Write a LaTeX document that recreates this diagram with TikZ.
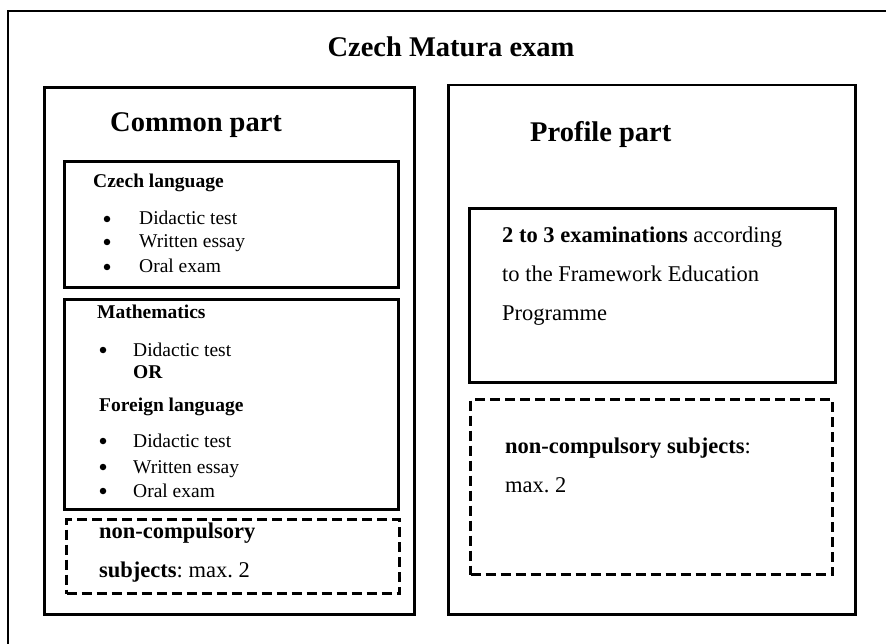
\documentclass[tikz,border=0pt]{standalone}
\usepackage{fontspec}
\setmainfont{Liberation Serif}
\usetikzlibrary{positioning}
\frenchspacing

\begin{document}
\begin{tikzpicture}[x=1pt,y=-1pt,
        frame/.style={draw,line width=3pt,anchor=north west,inner sep=0pt},
        optbox/.style={draw,line width=3pt,dash pattern=on 10pt off 5pt,anchor=north west,inner sep=0pt},
        head/.style={anchor=base west,inner sep=0pt,font=\fontsize{28.5}{34}\selectfont\bfseries},
        small/.style={anchor=base west,inner sep=0pt,font=\fontsize{19.5}{23}\selectfont},
        smallbf/.style={small,font=\fontsize{19.5}{23}\selectfont\bfseries},
        big/.style={anchor=base west,inner sep=0pt,font=\fontsize{22.5}{27}\selectfont},
        dot/.style={circle,fill,inner sep=0pt,minimum size=6.5pt,yshift=6pt}]
    \useasboundingbox (0,0) rectangle (886,644);
    \clip (0,0) rectangle (886,644);
    % outer frame, cut at right and bottom
    \draw[line width=1.7pt] (8,11) rectangle (900,660);
    \node[head,anchor=base] (title) at (451,57) {Czech Matura exam};

    % common part
    \node[frame,minimum width=370pt,minimum height=527pt] (common) at (43,86) {};
    \node[head] (commonhead) at (110,132) {Common part};
    \node[frame,minimum width=334pt,minimum height=126pt] (czech) at (63,160) {};
    \node[smallbf] (czechhead) at (93,188) {Czech language};
    \foreach \y/\t [count=\i] in {225/Didactic test,248/Written essay,273/Oral exam}{
        \node[dot] (cb\i) at (107,\y) {};
        \node[small] (ci\i) at (139,\y) {\t};
    }
    \node[frame,minimum width=334pt,minimum height=210pt] (maths) at (63,298) {};
    \node[smallbf] (mathshead) at (97,319) {Mathematics};
    \node[dot] (mb1) at (103,356) {};
    \node[small] (mi1) at (133,356) {Didactic test};
    \node[smallbf] (or) at (133,378) {OR};
    \node[smallbf] (foreignhead) at (99,411) {Foreign language};
    \foreach \y/\t [count=\i] in {447/Didactic test,473/Written essay,497/Oral exam}{
        \node[dot] (fb\i) at (103,\y) {};
        \node[small] (fi\i) at (133,\y) {\t};
    }
    \node[optbox,minimum width=333pt,minimum height=74pt] (optleft) at (65,518) {};
    \node[big] (optleft1) at (99,538) {\textbf{non-compulsory}};
    \node[big] (optleft2) at (99,577) {\textbf{subjects}: max. 2};

    % profile part
    \node[frame,line width=2.5pt,minimum width=407pt,minimum height=529pt] (profile) at (447,84) {};
    \node[head] (profilehead) at (530,142) {Profile part};
    \node[frame,minimum width=366pt,minimum height=174pt] (exams) at (468,207) {};
    \node[big] (exams1) at (502,243) {\textbf{2 to 3 examinations} according};
    \node[big] (exams2) at (502,282) {to the Framework Education};
    \node[big] (exams3) at (502,320) {Programme};
    \node[optbox,minimum width=362pt,minimum height=175pt] (optright) at (469,398) {};
    \node[big] (optright1) at (505,453) {\textbf{non-compulsory subjects}:};
    \node[big] (optright2) at (505,492) {max. 2};
\end{tikzpicture}
\end{document}
